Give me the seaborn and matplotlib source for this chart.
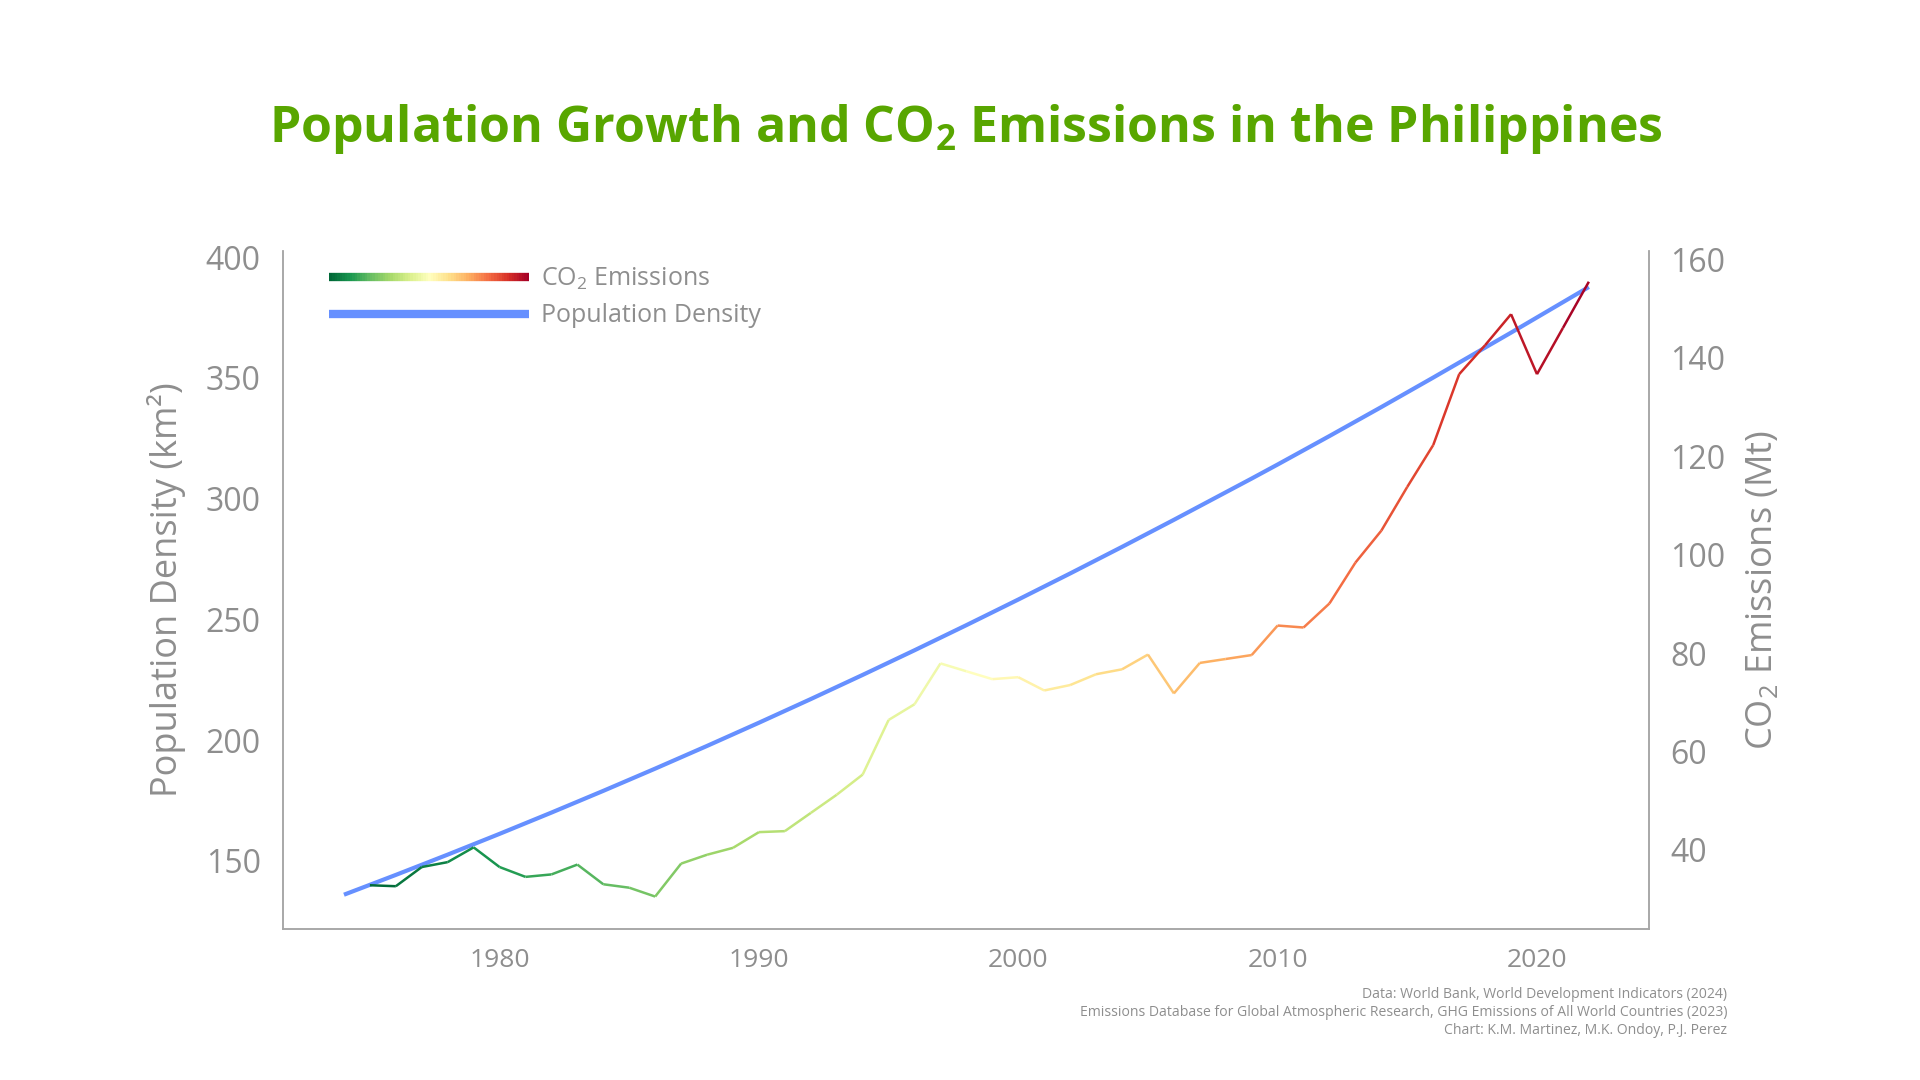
import numpy as np
import seaborn as sns
import matplotlib
matplotlib.use("Agg")
import matplotlib.pyplot as plt
from matplotlib.collections import LineCollection
from matplotlib.legend_handler import HandlerBase
from matplotlib.lines import Line2D

# Population density (people per km2), 1974-2022
pop_years = list(range(1974, 2023))
pop_density = [
    136.0, 140.1, 144.2, 148.4, 152.6, 156.9, 161.2, 165.6, 170.0, 174.5,
    179.0, 183.6, 188.2, 192.9, 197.6, 202.4, 207.2, 212.1, 217.0, 222.0,
    227.0, 232.1, 237.2, 242.4, 247.6, 252.9, 258.2, 263.6, 269.0, 274.5,
    280.0, 285.6, 291.2, 296.9, 302.6, 308.3, 314.1, 320.0, 325.9, 331.9,
    337.9, 344.0, 350.1, 356.3, 362.5, 368.7, 375.0, 381.3, 387.6,
]

# CO2 emissions (Mt), 1975-2022
co2_years = list(range(1975, 2023))
co2_mt = [
    32.8, 32.6, 36.5, 37.5, 40.5, 36.5, 34.5, 35.0, 37.0, 33.0,
    32.3, 30.5, 37.2, 39.0, 40.4, 43.6, 43.8, 47.5, 51.2, 55.3,
    66.4, 69.6, 77.9, 76.3, 74.7, 75.1, 72.4, 73.5, 75.7, 76.7,
    79.7, 71.8, 78.0, 78.8, 79.6, 85.6, 85.2, 90.1, 98.4, 104.9,
    113.8, 122.3, 136.7, 142.6, 148.9, 136.7, 146.1, 155.5,
]

x_ticks = [1980, 1990, 2000, 2010, 2020]
pop_ticks = [150, 200, 250, 300, 350, 400]
co2_ticks = [40, 60, 80, 100, 120, 140, 160]

title = "Population Growth and CO$_2$ Emissions in the Philippines"
credits = [
    "Data: World Bank, World Development Indicators (2024)",
    "Emissions Database for Global Atmospheric Research, GHG Emissions of All World Countries (2023)",
    "Chart: K.M. Martinez, M.K. Ondoy, P.J. Perez",
]

GREY = "#8e8e8e"
SPINE = "#a6a6a6"
GREEN = "#58a600"
BLUE = "#6690ff"

sns.set_theme(style="white")
plt.rcParams["font.family"] = ["Open Sans", "DejaVu Sans"]
plt.rcParams["mathtext.default"] = "regular"


class GradientHandler(HandlerBase):
    # draws the colormap as a thick bar in the legend
    def create_artists(self, legend, orig_handle, xdescent, ydescent,
                       width, height, fontsize, trans):
        xs = np.linspace(-xdescent, width - xdescent, 80)
        y = height / 2 - ydescent
        segs = [[(xs[i], y), (xs[i + 1], y)] for i in range(len(xs) - 1)]
        lc = LineCollection(segs, cmap=orig_handle.get_cmap(), linewidth=6,
                            transform=trans, capstyle="butt")
        lc.set_array(np.linspace(0, 1, len(segs)))
        lc.set_clim(0, 1)
        return [lc]


fig = plt.figure(figsize=(19.2, 10.8), dpi=100)
ax = fig.add_axes([0.1474, 0.1398, 0.7116, 0.6278])
ax2 = ax.twinx()

# population density line
sns.lineplot(x=pop_years, y=pop_density, ax=ax, color=BLUE, linewidth=3.0,
             solid_capstyle="butt")

# CO2 line coloured by year
pts = np.column_stack([co2_years, co2_mt])
segs = np.stack([pts[:-1], pts[1:]], axis=1)
co2_lc = LineCollection(segs, cmap="RdYlGn_r", linewidth=1.8)
co2_lc.set_array((np.array(co2_years[:-1]) + 0.5))
co2_lc.set_clim(co2_years[0], co2_years[-1])
ax2.add_collection(co2_lc)

ax.set_xlim(1971.65, 2024.33)
ax.set_ylim(121.8, 402.5)
ax2.set_ylim(23.9, 161.75)

ax.set_xticks(x_ticks)
ax.set_yticks(pop_ticks)
ax2.set_yticks(co2_ticks)
ax.tick_params(axis="x", length=0, pad=14, labelsize=19, labelcolor=GREY)
ax.tick_params(axis="y", length=0, pad=16, labelsize=23, labelcolor=GREY)
ax2.tick_params(axis="y", length=0, pad=15, labelsize=23, labelcolor=GREY)

ax.set_ylabel("Population Density (km²)", fontsize=26, color=GREY, labelpad=14)
ax2.set_ylabel("CO$_2$ Emissions (Mt)", fontsize=26, color=GREY, labelpad=14)
ax.set_xlabel("")

for a in (ax, ax2):
    a.spines["top"].set_visible(False)
    for s in ("left", "right", "bottom"):
        a.spines[s].set_color(SPINE)
        a.spines[s].set_linewidth(1.1)
    a.grid(False)

handles = [co2_lc, Line2D([], [], color=BLUE, linewidth=6, solid_capstyle="butt")]
labels = ["CO$_2$ Emissions", "Population Density"]
leg = ax2.legend(handles, labels, handler_map={LineCollection: GradientHandler()},
                 loc="upper left", bbox_to_anchor=(0.034, 0.978), frameon=False,
                 fontsize=18, handlelength=8.0, handletextpad=0.45,
                 labelspacing=0.45, borderpad=0, borderaxespad=0)
for t in leg.get_texts():
    t.set_color(GREY)

fig.text(0.503, 0.881, title, ha="center", va="center", fontsize=36,
         fontweight="bold", color=GREEN)

for i, line in enumerate(credits):
    fig.text(0.8995, 0.0796 - i * 0.0171, line, ha="right", va="center",
             fontsize=10.1, color=GREY)

fig.savefig("out.png", dpi=100, facecolor="white")
